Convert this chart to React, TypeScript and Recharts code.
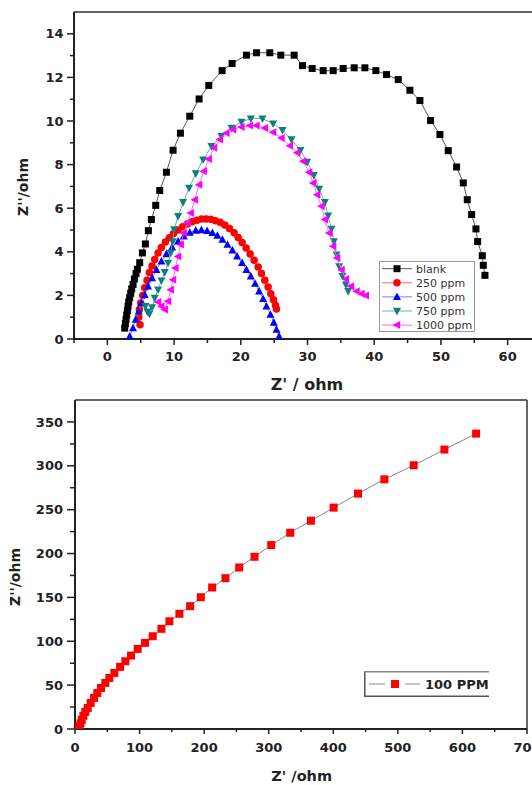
import React from 'react';
import { ScatterChart, Scatter, XAxis, YAxis, ReferenceLine } from 'recharts';

const FONT = "'DejaVu Sans', 'Liberation Sans', sans-serif";

// ---------- Top chart data (Z', Z'') ----------
const blankData: [number, number][] = [
  [2.6, 0.5], [2.7, 0.7], [2.8, 0.9], [2.9, 1.1], [3.0, 1.3], [3.1, 1.5], [3.2, 1.7], [3.35, 1.9],
  [3.5, 2.1], [3.65, 2.3], [3.85, 2.5], [4.05, 2.75], [4.3, 3.0], [4.5, 3.2], [4.85, 3.5], [5.25, 3.95],
  [5.7, 4.36], [6.15, 4.97], [6.6, 5.48], [7.25, 6.13], [7.85, 6.81], [8.85, 7.65], [9.85, 8.66],
  [10.95, 9.44], [12.35, 10.22], [13.75, 11.01], [15.2, 11.63], [17.2, 12.31], [18.7, 12.64],
  [20.85, 13.02], [22.35, 13.13], [24.35, 13.13], [26.0, 13.02], [28.0, 13.02], [29.25, 12.54],
  [30.7, 12.41], [32.35, 12.31], [33.85, 12.31], [35.35, 12.41], [37.0, 12.44], [38.6, 12.44],
  [40.25, 12.31], [41.85, 12.13], [43.6, 11.9], [45.35, 11.41], [46.85, 10.94], [48.45, 10.02],
  [49.85, 9.38], [51.1, 8.64], [52.35, 7.89], [53.35, 7.16], [53.95, 6.39], [54.6, 5.71],
  [55.25, 5.05], [55.5, 4.47], [56.2, 3.82], [56.35, 3.38], [56.6, 2.92],
];

const ppm250Data: [number, number][] = [
  [4.9, 0.65], [4.7, 1.0], [4.8, 1.35], [5.0, 1.65], [5.3, 2.0], [5.6, 2.35], [5.95, 2.7], [6.3, 3.05],
  [6.7, 3.35], [7.1, 3.65], [7.6, 3.95], [8.1, 4.2], [8.7, 4.45], [9.3, 4.65], [9.9, 4.83], [10.6, 5.0],
  [11.3, 5.15], [12.0, 5.28], [12.7, 5.38], [13.4, 5.45], [14.1, 5.5], [14.8, 5.51], [15.5, 5.49],
  [16.2, 5.43], [16.9, 5.35], [17.6, 5.23], [18.3, 5.07], [19.0, 4.87], [19.6, 4.66], [20.2, 4.43],
  [20.8, 4.18], [21.4, 3.9], [22.0, 3.61], [22.6, 3.3], [23.1, 3.0], [23.6, 2.7], [24.1, 2.38],
  [24.5, 2.08], [24.9, 1.8], [25.2, 1.55], [25.35, 1.38],
];

const ppm500Data: [number, number][] = [
  [3.35, 0.12], [3.85, 0.5], [4.25, 0.89], [4.7, 1.27], [5.1, 1.65], [5.6, 2.03], [6.1, 2.42], [6.7, 2.8],
  [7.35, 3.18], [8.1, 3.56], [8.85, 3.9], [9.7, 4.21], [10.6, 4.48], [11.45, 4.71], [12.35, 4.88],
  [13.25, 4.98], [14.1, 5.0], [14.95, 4.96], [15.75, 4.87], [16.5, 4.74], [17.25, 4.56], [18.0, 4.33],
  [18.75, 4.07], [19.45, 3.79], [20.2, 3.49], [20.85, 3.18], [21.5, 2.88], [22.15, 2.54], [22.75, 2.19],
  [23.35, 1.84], [23.85, 1.5], [24.45, 1.12], [24.95, 0.76], [25.35, 0.43], [25.75, 0.12],
];

const ppm750Data: [number, number][] = [
  [5.7, 1.5], [6.0, 1.25], [6.3, 1.15], [6.7, 1.45], [7.1, 1.88], [7.6, 2.26], [8.1, 2.68], [8.6, 3.06],
  [9.1, 3.49], [9.5, 3.95], [9.8, 4.48], [10.0, 5.02], [10.6, 5.63], [11.35, 6.27], [12.25, 6.93],
  [13.25, 7.59], [14.35, 8.23], [15.6, 8.84], [17.1, 9.3], [18.6, 9.68], [20.1, 9.96], [21.5, 10.11],
  [23.25, 10.11], [24.85, 9.88], [26.25, 9.58], [27.6, 9.15], [28.95, 8.66], [29.95, 8.12],
  [30.95, 7.51], [31.75, 6.88], [32.6, 6.27], [33.1, 5.66], [33.6, 5.05], [33.95, 4.48], [34.35, 3.87],
  [34.75, 3.33], [35.25, 2.88], [35.75, 2.49], [36.1, 2.19],
];

const ppm1000Data: [number, number][] = [
  [7.6, 1.7], [8.1, 1.5], [8.6, 1.35], [9.1, 1.73], [9.5, 2.26], [9.85, 2.72], [10.2, 3.26], [10.6, 3.79],
  [11.0, 4.33], [11.45, 4.86], [12.0, 5.32], [12.5, 5.78], [13.1, 6.39], [13.75, 7.08], [14.45, 7.69],
  [15.2, 8.26], [16.0, 8.77], [16.85, 9.15], [17.85, 9.45], [18.85, 9.61], [20.1, 9.73], [21.35, 9.79],
  [22.35, 9.79], [23.6, 9.68], [24.85, 9.48], [26.1, 9.22], [27.35, 8.87], [28.45, 8.54], [29.35, 8.15],
  [30.25, 7.65], [30.85, 7.16], [31.45, 6.62], [32.1, 6.09], [32.6, 5.48], [33.25, 4.86], [33.85, 4.25],
  [34.45, 3.72], [35.1, 3.18], [35.75, 2.75], [36.5, 2.42], [37.35, 2.19], [38.1, 2.07], [38.75, 1.99],
];

// ---------- Bottom chart data ----------
const ppm100Data: [number, number][] = [
  [6, 0.5], [7, 3], [8.5, 6.5], [10.5, 10.5], [13, 15], [16, 19.5], [19.7, 24.0], [24.3, 29.7],
  [29.5, 35.4], [34.6, 41.1], [40.3, 46.8], [47.0, 52.5], [53.2, 58.2], [61.0, 63.9], [69.8, 70.8],
  [78.0, 77.2], [86.8, 83.7], [97.1, 91.3], [108.5, 98.2], [120.4, 105.7], [133.8, 114.2],
  [146.2, 122.8], [161.7, 131.3], [178.3, 140.0], [194.9, 150.2], [212.4, 161.3], [233.0, 171.9],
  [254.3, 184.1], [278.0, 196.3], [303.9, 209.6], [333.3, 223.7], [365.4, 237.4], [400.5, 252.3],
  [438.3, 268.3], [479.1, 284.6], [524.5, 300.6], [572.1, 318.5], [621.2, 336.7],
];

// ---------- Ticks ----------
const topXTicks = [-5, 0, 5, 10, 15, 20, 25, 30, 35, 40, 45, 50, 55, 60, 65];
const topXLabels = [0, 10, 20, 30, 40, 50, 60];
const topYTicks = [0, 1, 2, 3, 4, 5, 6, 7, 8, 9, 10, 11, 12, 13, 14];
const topYLabels = [0, 2, 4, 6, 8, 10, 12, 14];
const botXTicks = [0, 50, 100, 150, 200, 250, 300, 350, 400, 450, 500, 550, 600, 650, 700];
const botXLabels = [0, 100, 200, 300, 400, 500, 600, 700];
const botYTicks = [0, 25, 50, 75, 100, 125, 150, 175, 200, 225, 250, 275, 300, 325, 350];
const botYLabels = [0, 50, 100, 150, 200, 250, 300, 350];

type Kind = 'square' | 'circle' | 'up' | 'down' | 'left';

const topSeries: { name: string; data: [number, number][]; color: string; line: string; kind: Kind; size: number }[] = [
  { name: 'blank', data: blankData, color: '#000000', line: '#555555', kind: 'square', size: 7 },
  { name: '250 ppm', data: ppm250Data, color: '#ff0000', line: '#ff6a6a', kind: 'circle', size: 7.5 },
  { name: '500 ppm', data: ppm500Data, color: '#0000ff', line: '#7a7aff', kind: 'up', size: 8 },
  { name: '750 ppm', data: ppm750Data, color: '#0f7f7c', line: '#66b3b0', kind: 'down', size: 8 },
  { name: '1000 ppm', data: ppm1000Data, color: '#ff00ff', line: '#ff66ff', kind: 'left', size: 8 },
];

function Marker({ kind, cx, cy, size, color }: { kind: Kind; cx: number; cy: number; size: number; color: string }) {
  const s = size;
  if (kind === 'square') return <rect x={cx - s / 2} y={cy - s / 2} width={s} height={s} fill={color} />;
  if (kind === 'circle') return <circle cx={cx} cy={cy} r={s / 2} fill={color} />;
  if (kind === 'up')
    return <polygon points={`${cx},${cy - s * 0.55} ${cx - s / 2},${cy + s * 0.4} ${cx + s / 2},${cy + s * 0.4}`} fill={color} />;
  if (kind === 'down')
    return <polygon points={`${cx},${cy + s * 0.55} ${cx - s / 2},${cy - s * 0.4} ${cx + s / 2},${cy - s * 0.4}`} fill={color} />;
  return <polygon points={`${cx - s * 0.55},${cy} ${cx + s * 0.4},${cy - s / 2} ${cx + s * 0.4},${cy + s / 2}`} fill={color} />;
}

function makeXTick(labels: number[], majorLen: number, minorLen: number, labelOff: number) {
  return (props: any) => {
    const { x, y, payload } = props;
    const v = payload.value;
    const major = labels.includes(v);
    return (
      <g>
        <line x1={x} x2={x} y1={y} y2={y + (major ? majorLen : minorLen)} stroke="#222" strokeWidth={1.5} />
        {major && (
          <text x={x} y={y + labelOff} dy="0.36em" textAnchor="middle" fontFamily={FONT} fontWeight="bold" fontSize={13} fill="#222">
            {v}
          </text>
        )}
      </g>
    );
  };
}

function makeYTick(labels: number[], majorLen: number, minorLen: number, labelOff: number) {
  return (props: any) => {
    const { x, y, payload } = props;
    const v = payload.value;
    const major = labels.includes(v);
    return (
      <g>
        <line x1={x - (major ? majorLen : minorLen)} x2={x} y1={y} y2={y} stroke="#222" strokeWidth={1.5} />
        {major && (
          <text x={x - labelOff} y={y} dy="0.36em" textAnchor="end" fontFamily={FONT} fontWeight="bold" fontSize={13} fill="#222">
            {v}
          </text>
        )}
      </g>
    );
  };
}

const toPts = (d: [number, number][]) => d.map(([x, y]) => ({ x, y }));

function Title({ text, cx, cy, size, rotate }: { text: string; cx: number; cy: number; size: number; rotate?: boolean }) {
  return (
    <div
      style={{
        position: 'absolute',
        left: cx,
        top: cy,
        transform: `translate(-50%, -50%)${rotate ? ' rotate(-90deg)' : ''}`,
        fontFamily: FONT,
        fontWeight: 'bold',
        fontSize: size,
        lineHeight: 1,
        whiteSpace: 'nowrap',
        color: '#222',
      }}
    >
      {text}
    </div>
  );
}

export default function App() {
  return (
    <div style={{ position: 'absolute', left: 0, top: 0, width: 532, height: 785, overflow: 'hidden', background: '#fff' }}>
      {/* Top chart */}
      <div style={{ position: 'absolute', left: 0, top: 0 }}>
        <ScatterChart width={560} height={390} margin={{ top: 12, right: 19, bottom: 0, left: 0 }}>
          <XAxis
            type="number"
            dataKey="x"
            domain={[-5, 65]}
            ticks={topXTicks}
            interval={0}
            tickSize={0}
            tickMargin={0}
            tickLine={false}
            axisLine={{ stroke: '#222', strokeWidth: 2 }}
            height={51}
            tick={makeXTick(topXLabels, 6, 4, 17.5)}
            allowDataOverflow
          />
          <YAxis
            type="number"
            dataKey="y"
            domain={[0, 15]}
            ticks={topYTicks}
            interval={0}
            tickSize={0}
            tickMargin={0}
            tickLine={false}
            axisLine={{ stroke: '#222', strokeWidth: 2 }}
            width={74}
            tick={makeYTick(topYLabels, 7, 4, 10.5)}
            allowDataOverflow
          />
          <ReferenceLine y={15} stroke="#333" strokeWidth={1.5} />
          {topSeries.map((s) => (
            <Scatter
              key={s.name}
              name={s.name}
              data={toPts(s.data)}
              line={{ stroke: s.line, strokeWidth: 1 }}
              lineType="joint"
              isAnimationActive={false}
              shape={(p: any) => <Marker kind={s.kind} cx={p.cx} cy={p.cy} size={s.size} color={s.color} />}
            />
          ))}
        </ScatterChart>
        {/* Legend top */}
        <svg style={{ position: 'absolute', left: 379, top: 261 }} width={97} height={72}>
          <rect x={0.5} y={0.5} width={95} height={70} fill="#fff" stroke="#999" strokeWidth={1} />
          {topSeries.map((s, i) => {
            const cy = 7.7 + i * 14.1;
            return (
              <g key={s.name}>
                <line x1={3} x2={33} y1={cy} y2={cy} stroke={s.line} strokeWidth={1} />
                <Marker kind={s.kind} cx={18} cy={cy} size={s.size} color={s.color} />
                <text x={37} y={cy} dy="0.36em" fontFamily={FONT} fontSize={11} fill="#333">
                  {s.name}
                </text>
              </g>
            );
          })}
        </svg>
      </div>

      {/* Bottom chart */}
      <div style={{ position: 'absolute', left: 0, top: 390 }}>
        <ScatterChart width={532} height={395} margin={{ top: 10, right: 5, bottom: 0, left: 0 }}>
          <XAxis
            type="number"
            dataKey="x"
            domain={[0, 700]}
            ticks={botXTicks}
            interval={0}
            tickSize={0}
            tickMargin={0}
            tickLine={false}
            axisLine={{ stroke: '#222', strokeWidth: 2 }}
            height={56}
            tick={makeXTick(botXLabels, 5, 3, 18)}
            allowDataOverflow
          />
          <YAxis
            type="number"
            dataKey="y"
            domain={[0, 375]}
            ticks={botYTicks}
            interval={0}
            tickSize={0}
            tickMargin={0}
            tickLine={false}
            axisLine={{ stroke: '#222', strokeWidth: 2 }}
            width={75}
            tick={makeYTick(botYLabels, 8, 5, 12)}
            allowDataOverflow
          />
          <ReferenceLine y={375} stroke="#333" strokeWidth={1.5} />
          <ReferenceLine x={700} stroke="#333" strokeWidth={1.5} />
          <Scatter
            name="100 PPM"
            data={toPts(ppm100Data)}
            line={{ stroke: '#888', strokeWidth: 1 }}
            lineType="joint"
            isAnimationActive={false}
            shape={(p: any) => <Marker kind="square" cx={p.cx} cy={p.cy} size={8} color="#ff0000" />}
          />
        </ScatterChart>
        <svg style={{ position: 'absolute', left: 364, top: 281 }} width={126} height={26}>
          <line x1={0.75} x2={0.75} y1={0.5} y2={25.5} stroke="#555" strokeWidth={1.5} />
          <line x1={0} x2={125} y1={0.75} y2={0.75} stroke="#888" strokeWidth={1.5} />
          <line x1={0} x2={125} y1={25.25} y2={25.25} stroke="#555" strokeWidth={1.5} />
          <line x1={5} x2={21} y1={13} y2={13} stroke="#888" strokeWidth={1} />
          <line x1={41} x2={56} y1={13} y2={13} stroke="#888" strokeWidth={1} />
          <Marker kind="square" cx={31} cy={13} size={8} color="#ff0000" />
          <text x={61} y={13} dy="0.36em" fontFamily={FONT} fontWeight="bold" fontSize={13} fill="#222">
            100 PPM
          </text>
        </svg>
      </div>

      <Title text="Z''/ohm" cx={22.7} cy={187} size={14} rotate />
      <Title text="Z' / ohm" cx={307} cy={385} size={16} />
      <Title text="Z''/ohm" cx={15} cy={577} size={14} rotate />
      <Title text="Z' /ohm" cx={301.7} cy={775.7} size={14.5} />
    </div>
  );
}
